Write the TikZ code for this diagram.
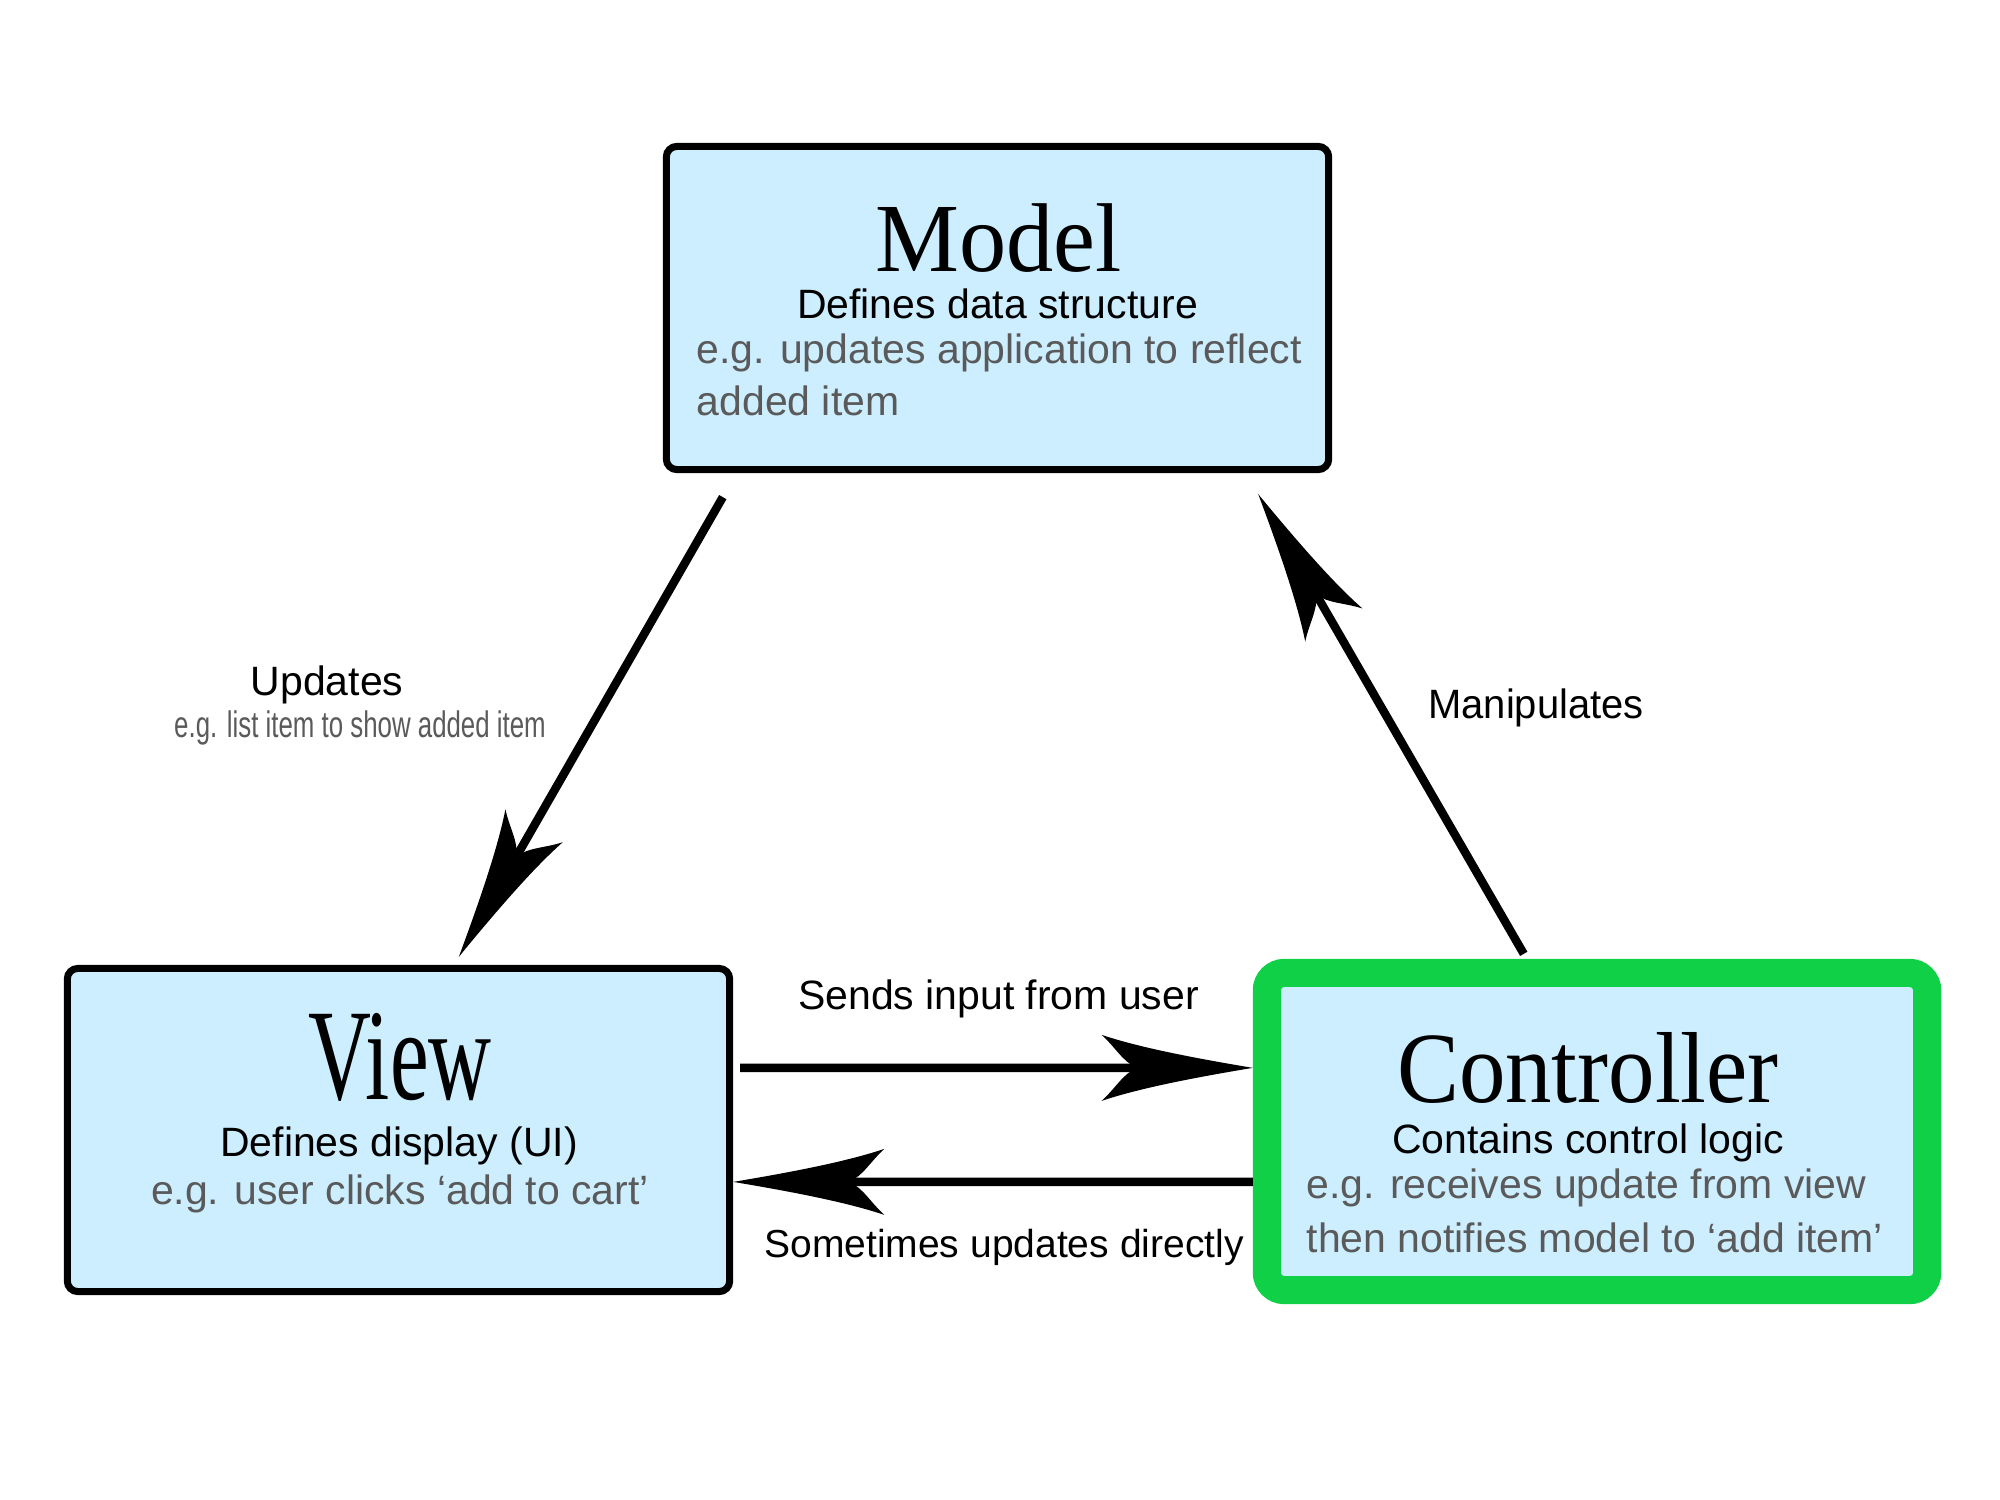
\documentclass[tikz,border=0pt]{standalone}
\usepackage{fontspec}
\setmainfont{Liberation Sans}
\newfontfamily\titlefont{Liberation Serif}
\usetikzlibrary{calc}
\definecolor{boxblue}{RGB}{204,238,255}
\definecolor{ctrlgreen}{RGB}{16,208,72}
\definecolor{notegray}{RGB}{90,90,90}

\pgfdeclarearrow{
  name = MyBarb,
  setup code = {
    \pgfarrowssettipend{0pt}
    \pgfarrowssetlineend{-30pt}
    \pgfarrowssetvisualbackend{-33pt}
    \pgfarrowssetbackend{-43pt}
    \pgfarrowshullpoint{0pt}{0pt}
    \pgfarrowsupperhullpoint{-43pt}{9.4pt}
  },
  drawing code = {
    \pgfpathmoveto{\pgfqpoint{0pt}{0pt}}
    \pgfpathcurveto{\pgfqpoint{-18pt}{3.0pt}}{\pgfqpoint{-33pt}{6.0pt}}{\pgfqpoint{-43pt}{9.4pt}}
    \pgfpathcurveto{\pgfqpoint{-39pt}{5.8pt}}{\pgfqpoint{-37pt}{1.8pt}}{\pgfqpoint{-33pt}{0pt}}
    \pgfpathcurveto{\pgfqpoint{-37pt}{-1.8pt}}{\pgfqpoint{-39pt}{-5.8pt}}{\pgfqpoint{-43pt}{-9.4pt}}
    \pgfpathcurveto{\pgfqpoint{-33pt}{-6.0pt}}{\pgfqpoint{-18pt}{-3.0pt}}{\pgfqpoint{0pt}{0pt}}
    \pgfpathclose
    \pgfusepathqfill
  }
}

\tikzset{
  box/.style={draw=black, line width=2pt, fill=boxblue, rounded corners=3pt,
    minimum width=6.62cm, minimum height=3.23cm, inner sep=0pt},
  ctrlbox/.style={draw=ctrlgreen, line width=8pt, fill=boxblue, rounded corners=5pt,
    minimum width=6.60cm, minimum height=3.17cm, inner sep=0pt},
  conn/.style={line width=2.4pt, draw=black, -{MyBarb}},
  txt/.style={anchor=base, inner sep=0pt, text height=8.6pt, text depth=2.4pt,
    font=\fontsize{11.65pt}{14pt}\selectfont},
  notetxt/.style={txt, text=notegray},
  notel/.style={notetxt, anchor=base west},
  ttl/.style={anchor=base, inner sep=0pt, text depth=0pt},
}

\begin{document}
\begin{tikzpicture}[x=0.01cm,y=-0.01cm]
\useasboundingbox (0,0) rectangle (2000,1500);
\fill[white] (0,0) rectangle (2000,1500);

% boxes
\node[box] (model) at (997.5,308) {};
\node[box] (view) at (398.5,1130) {};
\node[ctrlbox] (ctrl) at (1597,1131.5) {};

% model texts
\node[ttl, text height=19pt] (modelT) at (998.5,271.5) {\titlefont\fontsize{27.8pt}{30pt}\selectfont\scalebox{0.965}[1]{Model}};
\node[txt] (modelS) at (997.5,318) {Defines data structure};
\node[notel] (modelN1) at (696,363) {e.g. updates application to reflect};
\node[notel] (modelN2) at (696,415.5) {added item};

% view texts
\node[ttl, text height=25pt] (viewT) at (400,1099) {\titlefont\fontsize{37pt}{40pt}\selectfont\scalebox{0.67}[1]{View}};
\node[txt] (viewS) at (399,1156.5) {Defines display (UI)};
\node[notetxt] (viewN) at (400,1204) {e.g. user clicks ‘add to cart’};

% controller texts
\node[ttl, text height=19.6pt] (ctrlT) at (1588,1102) {\titlefont\fontsize{28.7pt}{31pt}\selectfont\scalebox{0.92}[1]{Controller}};
\node[txt] (ctrlS) at (1588,1153.5) {Contains control logic};
\node[notel] (ctrlN1) at (1306,1198) {e.g. receives update from view};
\node[notel] (ctrlN2) at (1306,1252) {then notifies model to ‘add item’};

% connectors
\draw[conn] ($(model.south west)+(60,24)$) -- ($(view.north west)+(395,-8)$);
\draw[conn] ($(ctrl.north west)+(271,-5)$) -- ($(model.south east)+(-74,21)$);
\draw[conn] ($(view.north east)+(7,103)$) -- ($(ctrl.north west)+(0,109)$);
\draw[conn] ($(ctrl.north west)+(0,223)$) -- ($(view.north east)+(0,217)$);

% connector labels
\node[txt] (updL) at (327,695) {Updates};
\node[notetxt, text height=7.6pt, text depth=2.2pt] (updN) at (360,737) {\fontsize{10.5pt}{12pt}\selectfont\scalebox{0.70}[1]{e.g. list item to show added item}};
\node[txt] (manL) at (1536,718) {\scalebox{0.975}[1]{Manipulates}};
\node[txt] (sendL) at (998.5,1009) {Sends input from user};
\node[txt] (someL) at (1004,1257) {\fontsize{11.1pt}{13pt}\selectfont Sometimes updates directly};
\end{tikzpicture}
\end{document}
